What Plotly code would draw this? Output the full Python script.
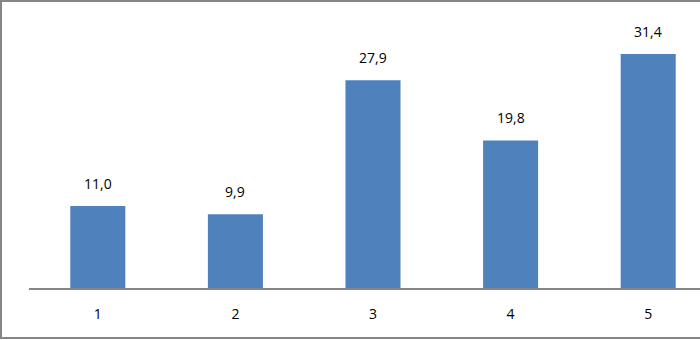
import plotly.graph_objects as go

categories = ["1", "2", "3", "4", "5"]
values = [11.0, 9.9, 27.9, 19.8, 31.4]

W, H = 700, 340
ml, mr, mt, mb = 29, 0, 10, 52
px_per_cat = 137.6
px_per_unit = 7.45

plot_w = W - ml - mr
plot_h = H - mt - mb
x_span = plot_w / px_per_cat
y_max = plot_h / px_per_unit

xs = list(range(1, len(categories) + 1))

fig = go.Figure()
fig.add_trace(go.Bar(
    x=xs, y=values, width=0.4,
    marker=dict(color="#4F81BD", line=dict(width=0)),
    hoverinfo="skip",
))

for xv, v in zip(xs, values):
    fig.add_annotation(
        x=xv, y=v, text=f"{v:.1f}".replace(".", ","),
        showarrow=False, yanchor="bottom", yshift=11,
        font=dict(family="Open Sans", size=14, color="#000000"),
    )

# outer chart border (in paper coordinates)
def px_to_paper_x(p):
    return (p - ml) / plot_w

def px_to_paper_y(p):
    return (H - mb - p) / plot_h

fig.add_shape(
    type="rect", xref="paper", yref="paper",
    x0=px_to_paper_x(1), x1=px_to_paper_x(712),
    y0=px_to_paper_y(338), y1=px_to_paper_y(1),
    line=dict(color="#868686", width=2), fillcolor="rgba(0,0,0,0)",
    layer="above",
)

fig.update_layout(
    width=W, height=H,
    margin=dict(l=ml, r=mr, t=mt, b=mb),
    paper_bgcolor="white", plot_bgcolor="white",
    showlegend=False,
    xaxis=dict(
        range=[0.5, 0.5 + x_span],
        tickvals=xs, ticktext=categories,
        showgrid=False, zeroline=False,
        showline=True, linecolor="#868686", linewidth=2,
        ticks="outside", ticklen=12, tickcolor="rgba(0,0,0,0)",
        tickfont=dict(family="Open Sans", size=14, color="#000000"),
    ),
    yaxis=dict(range=[0, y_max], visible=False, showgrid=False, zeroline=False),
)

fig.write_html(
    "out.html",
    config={"displayModeBar": False},
    post_script="document.body.style.margin='0px';",
)
